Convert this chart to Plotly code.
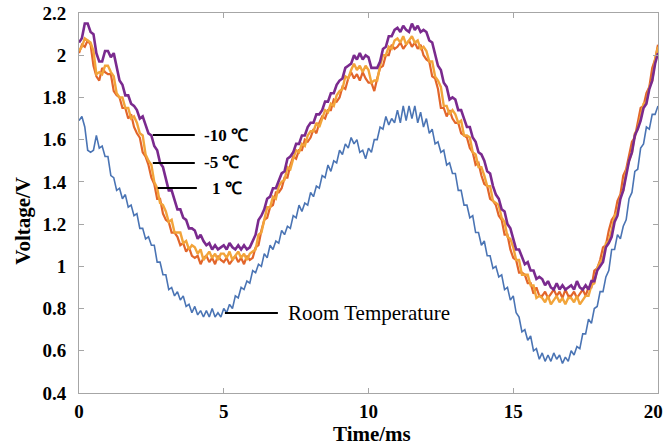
import plotly.graph_objects as go

# sampling grid (ms)
time_ms = [round(i * 0.1, 1) for i in range(201)]

room_temp = [
    1.69, 1.71, 1.66, 1.55, 1.54, 1.55, 1.62, 1.56, 1.57, 1.52,
    1.52, 1.43, 1.42, 1.36, 1.37, 1.32, 1.34, 1.28, 1.29, 1.24,
    1.25, 1.18, 1.18, 1.13, 1.14, 1.10, 1.10, 1.02, 1.02, 0.96,
    0.96, 0.89, 0.90, 0.86, 0.88, 0.84, 0.86, 0.81, 0.82, 0.78,
    0.81, 0.77, 0.79, 0.76, 0.79, 0.76, 0.80, 0.76, 0.78, 0.76,
    0.80, 0.78, 0.82, 0.80, 0.86, 0.85, 0.90, 0.89, 0.93, 0.92,
    0.98, 0.97, 1.01, 1.00, 1.06, 1.04, 1.10, 1.08, 1.12, 1.11,
    1.17, 1.15, 1.19, 1.18, 1.24, 1.23, 1.29, 1.26, 1.30, 1.29,
    1.35, 1.33, 1.38, 1.37, 1.43, 1.42, 1.48, 1.45, 1.50, 1.49,
    1.55, 1.53, 1.58, 1.56, 1.61, 1.58, 1.60, 1.54, 1.55, 1.51,
    1.56, 1.54, 1.60, 1.60, 1.66, 1.65, 1.71, 1.67, 1.70, 1.68,
    1.74, 1.68, 1.76, 1.69, 1.76, 1.70, 1.76, 1.68, 1.73, 1.66,
    1.70, 1.63, 1.65, 1.58, 1.59, 1.54, 1.55, 1.48, 1.49, 1.44,
    1.44, 1.36, 1.36, 1.29, 1.29, 1.23, 1.24, 1.16, 1.16, 1.10,
    1.12, 1.05, 1.05, 0.99, 1.00, 0.95, 0.96, 0.89, 0.90, 0.84,
    0.86, 0.78, 0.76, 0.69, 0.70, 0.65, 0.67, 0.60, 0.61, 0.56,
    0.59, 0.55, 0.58, 0.55, 0.59, 0.56, 0.58, 0.54, 0.57, 0.55,
    0.60, 0.58, 0.62, 0.61, 0.68, 0.68, 0.75, 0.73, 0.80, 0.81,
    0.88, 0.88, 0.95, 0.98, 1.08, 1.08, 1.15, 1.13, 1.19, 1.22,
    1.32, 1.35, 1.45, 1.46, 1.56, 1.58, 1.66, 1.65, 1.72, 1.72,
    1.76,
]

temp_1c = [
    2.02, 2.04, 2.08, 2.07, 2.06, 2.02, 1.91, 1.92, 1.91, 1.95,
    1.95, 1.92, 1.90, 1.82, 1.80, 1.80, 1.75, 1.75, 1.70, 1.71,
    1.68, 1.63, 1.62, 1.53, 1.50, 1.48, 1.40, 1.37, 1.30, 1.29,
    1.26, 1.21, 1.22, 1.16, 1.16, 1.16, 1.11, 1.12, 1.08, 1.10,
    1.09, 1.06, 1.08, 1.03, 1.05, 1.07, 1.04, 1.06, 1.03, 1.06,
    1.06, 1.04, 1.07, 1.03, 1.05, 1.07, 1.04, 1.06, 1.03, 1.06,
    1.07, 1.08, 1.15, 1.16, 1.22, 1.28, 1.28, 1.33, 1.32, 1.38,
    1.40, 1.41, 1.47, 1.46, 1.51, 1.55, 1.54, 1.58, 1.57, 1.62,
    1.64, 1.64, 1.68, 1.66, 1.70, 1.74, 1.73, 1.77, 1.76, 1.81,
    1.83, 1.84, 1.90, 1.89, 1.93, 1.96, 1.93, 1.95, 1.92, 1.95,
    1.93, 1.87, 1.88, 1.88, 1.95, 2.00, 2.00, 2.04, 2.03, 2.07,
    2.08, 2.06, 2.09, 2.05, 2.07, 2.09, 2.06, 2.07, 2.03, 2.04,
    2.02, 1.97, 1.97, 1.90, 1.88, 1.85, 1.76, 1.76, 1.72, 1.74,
    1.72, 1.68, 1.69, 1.62, 1.62, 1.61, 1.54, 1.53, 1.47, 1.47,
    1.43, 1.38, 1.38, 1.31, 1.30, 1.29, 1.23, 1.21, 1.14, 1.13,
    1.09, 1.03, 1.03, 0.96, 0.96, 0.96, 0.91, 0.91, 0.85, 0.86,
    0.85, 0.83, 0.86, 0.82, 0.84, 0.86, 0.83, 0.85, 0.82, 0.85,
    0.85, 0.83, 0.86, 0.82, 0.84, 0.86, 0.86, 0.91, 0.92, 0.99,
    1.02, 1.04, 1.11, 1.12, 1.17, 1.24, 1.26, 1.33, 1.36, 1.45,
    1.50, 1.54, 1.63, 1.65, 1.71, 1.77, 1.78, 1.85, 1.88, 1.98,
    2.04,
]

temp_m5c = [
    2.01, 2.05, 2.04, 2.07, 2.05, 1.95, 1.90, 1.88, 1.94, 1.92,
    1.91, 1.91, 1.83, 1.81, 1.80, 1.75, 1.75, 1.70, 1.72, 1.66,
    1.63, 1.61, 1.54, 1.52, 1.48, 1.42, 1.39, 1.32, 1.32, 1.25,
    1.22, 1.21, 1.16, 1.16, 1.14, 1.10, 1.11, 1.07, 1.09, 1.05,
    1.04, 1.05, 1.01, 1.04, 1.05, 1.02, 1.04, 1.01, 1.05, 1.03,
    1.02, 1.04, 1.01, 1.03, 1.05, 1.02, 1.04, 1.01, 1.05, 1.03,
    1.04, 1.09, 1.10, 1.17, 1.22, 1.23, 1.28, 1.29, 1.35, 1.35,
    1.37, 1.42, 1.42, 1.48, 1.52, 1.51, 1.55, 1.55, 1.60, 1.59,
    1.61, 1.65, 1.63, 1.68, 1.71, 1.70, 1.74, 1.74, 1.79, 1.78,
    1.80, 1.85, 1.84, 1.89, 1.92, 1.89, 1.91, 1.88, 1.92, 1.89,
    1.87, 1.87, 1.83, 1.89, 1.94, 1.95, 2.00, 2.00, 2.05, 2.03,
    2.04, 2.06, 2.03, 2.05, 2.07, 2.04, 2.06, 2.03, 2.05, 2.00,
    1.98, 1.97, 1.90, 1.89, 1.84, 1.75, 1.75, 1.71, 1.74, 1.70,
    1.68, 1.68, 1.63, 1.62, 1.61, 1.56, 1.54, 1.48, 1.49, 1.43,
    1.39, 1.38, 1.32, 1.31, 1.29, 1.24, 1.22, 1.15, 1.15, 1.08,
    1.04, 1.03, 0.97, 0.97, 0.96, 0.92, 0.92, 0.87, 0.90, 0.86,
    0.86, 0.88, 0.85, 0.87, 0.89, 0.86, 0.88, 0.85, 0.89, 0.86,
    0.86, 0.88, 0.85, 0.87, 0.89, 0.86, 0.90, 0.90, 0.98, 0.99,
    1.03, 1.09, 1.10, 1.17, 1.22, 1.24, 1.31, 1.34, 1.43, 1.46,
    1.52, 1.59, 1.61, 1.69, 1.75, 1.76, 1.82, 1.85, 1.94, 1.98,
    2.05,
]

temp_m10c = [
    2.06, 2.08, 2.15, 2.15, 2.11, 2.10, 2.01, 1.97, 1.97, 2.02,
    2.02, 1.99, 2.01, 1.95, 1.88, 1.86, 1.81, 1.81, 1.77, 1.76,
    1.74, 1.70, 1.71, 1.67, 1.63, 1.62, 1.57, 1.55, 1.49, 1.47,
    1.42, 1.36, 1.36, 1.31, 1.27, 1.27, 1.23, 1.22, 1.18, 1.18,
    1.17, 1.13, 1.15, 1.12, 1.10, 1.11, 1.08, 1.10, 1.08, 1.09,
    1.10, 1.08, 1.11, 1.09, 1.08, 1.10, 1.08, 1.10, 1.08, 1.09,
    1.12, 1.15, 1.22, 1.24, 1.27, 1.32, 1.33, 1.37, 1.37, 1.41,
    1.44, 1.45, 1.51, 1.52, 1.54, 1.58, 1.58, 1.62, 1.62, 1.66,
    1.68, 1.68, 1.72, 1.72, 1.74, 1.78, 1.78, 1.82, 1.82, 1.86,
    1.88, 1.89, 1.94, 1.95, 1.96, 2.00, 1.98, 2.01, 1.98, 2.00,
    1.99, 1.94, 1.94, 1.94, 1.97, 2.03, 2.04, 2.09, 2.09, 2.12,
    2.13, 2.11, 2.14, 2.12, 2.11, 2.15, 2.12, 2.14, 2.11, 2.12,
    2.11, 2.07, 2.06, 2.00, 1.95, 1.93, 1.87, 1.85, 1.79, 1.80,
    1.79, 1.74, 1.74, 1.70, 1.66, 1.66, 1.61, 1.59, 1.54, 1.53,
    1.50, 1.45, 1.44, 1.38, 1.34, 1.32, 1.27, 1.26, 1.20, 1.18,
    1.13, 1.08, 1.08, 1.04, 1.01, 1.02, 0.98, 0.98, 0.94, 0.95,
    0.94, 0.91, 0.93, 0.90, 0.89, 0.92, 0.89, 0.91, 0.89, 0.90,
    0.91, 0.89, 0.93, 0.90, 0.89, 0.91, 0.89, 0.93, 0.93, 0.98,
    1.00, 1.02, 1.09, 1.11, 1.14, 1.21, 1.24, 1.32, 1.36, 1.44,
    1.50, 1.54, 1.62, 1.65, 1.69, 1.75, 1.77, 1.84, 1.88, 1.96,
    2.01,
]

x_ticks = [0, 5, 10, 15, 20]
x_tick_text = ["0", "5", "10", "15", "20\u2002"]
y_ticks = [0.4, 0.6, 0.8, 1.0, 1.2, 1.4, 1.6, 1.8, 2.0, 2.2]
y_tick_text = ["0.4", "0.6", "0.8", "1", "1.2", "1.4", "1.6", "1.8", "2", "2.2"]

series = [
    ("Room Temperature", room_temp, "#4A74B4", 1.6),
    ("-5 ℃", temp_m5c, "#E2652A", 2.2),
    ("1 ℃", temp_1c, "#F2A43A", 2.4),
    ("-10 ℃", temp_m10c, "#7A2A8E", 2.6),
]

fig = go.Figure()
for name, vals, color, w in series:
    fig.add_trace(go.Scatter(x=time_ms, y=vals, mode="lines", name=name,
                             line=dict(color=color, width=w), showlegend=False))

serif = "Liberation Serif"

# label leader lines and texts
labels = [
    ("-10 ℃", 2.55, 4.0, 1.622, 4.25, True, 17),
    ("-5 ℃", 2.55, 4.0, 1.490, 4.25, True, 17),
    ("1 ℃", 2.72, 4.07, 1.371, 4.52, True, 17),
    ("Room Temperature", 5.04, 6.87, 0.779, 7.15, False, 21),
]
for text, x0, x1, yy, xt, bold, fs in labels:
    fig.add_shape(type="line", x0=x0, x1=x1, y0=yy, y1=yy, xref="x", yref="y",
                  line=dict(color="black", width=2))
    fig.add_annotation(x=xt, y=yy, xref="x", yref="y", xanchor="left", yanchor="middle",
                       text=f"<b>{text}</b>" if bold else text, showarrow=False,
                       font=dict(family=serif, size=fs, color="black"))

# axis titles
fig.add_annotation(x=0.506, y=-0.107, xref="paper", yref="paper", xanchor="center",
                   yanchor="middle", text="<b>Time/ms</b>", showarrow=False,
                   font=dict(family=serif, size=21, color="black"))
fig.add_annotation(x=-0.097, y=0.4526, xref="paper", yref="paper", xanchor="center",
                   yanchor="middle", text="<b>Voltage/V</b>", showarrow=False, textangle=-90,
                   font=dict(family=serif, size=21, color="black"))

axis_common = dict(
    showline=True, linecolor="#A6A6A6", linewidth=1, mirror="ticks",
    ticks="inside", ticklen=5, tickcolor="#A6A6A6", showgrid=False, zeroline=False,
    automargin=False, ticklabeloverflow="allow",
    tickfont=dict(family=serif, size=19, color="black", weight="bold"),
)

fig.update_layout(
    width=665, height=446,
    margin=dict(l=79, r=7, t=13, b=53),
    paper_bgcolor="white", plot_bgcolor="white",
    xaxis=dict(range=[0, 20], tickvals=x_ticks, ticktext=x_tick_text,
               ticklabelstandoff=1, **axis_common),
    yaxis=dict(range=[0.4, 2.2], tickvals=y_ticks, ticktext=y_tick_text,
               ticklabelstandoff=8, **axis_common),
)

fig.write_html("out.html", config={"displayModeBar": False},
               post_script="document.body.style.margin='0';document.body.style.overflow='hidden';")
